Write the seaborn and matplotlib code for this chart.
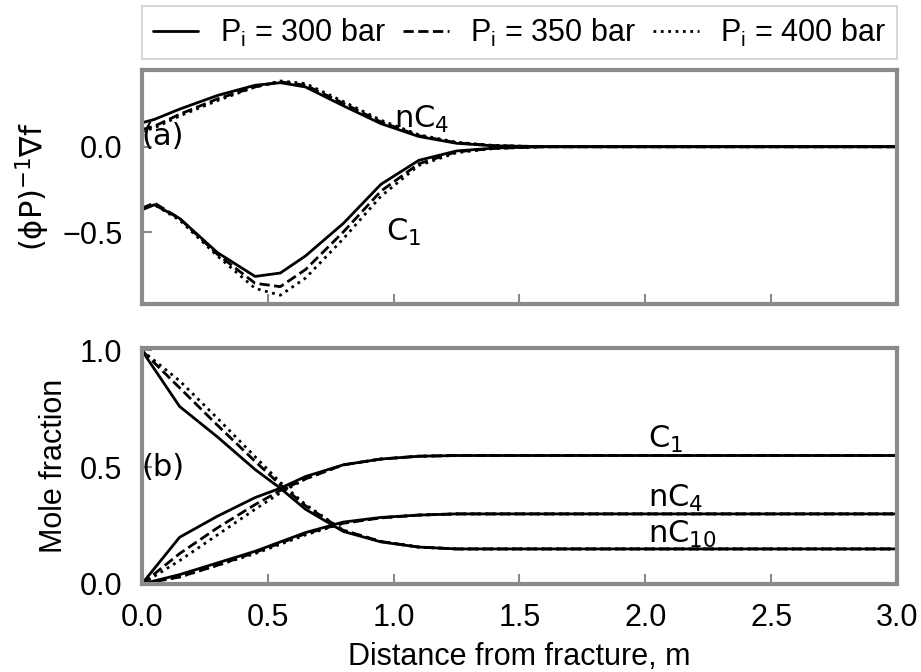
import numpy as np
import pandas as pd
import matplotlib
matplotlib.use("Agg")
import matplotlib.pyplot as plt
from matplotlib.lines import Line2D
import seaborn as sns

# pressures / line styles
pressures = ["300", "350", "400"]
styles = ["-", "--", ":"]

# (a) normalised gradient vs distance
x_a = [0, 0.05, 0.15, 0.3, 0.45, 0.55, 0.65, 0.8, 0.95, 1.1, 1.25, 1.4, 1.6, 2.0, 3.0]
nc4_a = {
    "300": [0.14, 0.16, 0.22, 0.30, 0.36, 0.375, 0.35, 0.24, 0.135, 0.06, 0.02, 0.005, 0.0, 0.0, 0.0],
    "350": [0.10, 0.12, 0.19, 0.28, 0.35, 0.38, 0.36, 0.255, 0.145, 0.065, 0.023, 0.006, 0.0, 0.0, 0.0],
    "400": [0.09, 0.11, 0.18, 0.27, 0.35, 0.385, 0.37, 0.265, 0.155, 0.07, 0.026, 0.007, 0.0, 0.0, 0.0],
}
c1_a = {
    "300": [-0.37, -0.34, -0.42, -0.62, -0.76, -0.74, -0.64, -0.45, -0.22, -0.08, -0.025, -0.008, 0.0, 0.0, 0.0],
    "350": [-0.36, -0.33, -0.42, -0.63, -0.80, -0.82, -0.72, -0.50, -0.26, -0.10, -0.03, -0.01, 0.0, 0.0, 0.0],
    "400": [-0.36, -0.34, -0.43, -0.64, -0.83, -0.87, -0.77, -0.54, -0.29, -0.11, -0.035, -0.01, 0.0, 0.0, 0.0],
}

# (b) mole fractions vs distance
x_b = [0, 0.15, 0.3, 0.45, 0.55, 0.65, 0.8, 0.95, 1.1, 1.25, 1.5, 2.0, 3.0]
c1_b = {
    "300": [0, 0.20, 0.29, 0.37, 0.41, 0.46, 0.51, 0.535, 0.547, 0.55, 0.55, 0.55, 0.55],
    "350": [0, 0.13, 0.24, 0.34, 0.40, 0.45, 0.51, 0.535, 0.547, 0.55, 0.55, 0.55, 0.55],
    "400": [0, 0.10, 0.21, 0.32, 0.39, 0.45, 0.51, 0.535, 0.547, 0.55, 0.55, 0.55, 0.55],
}
nc4_b = {
    "300": [0, 0.04, 0.09, 0.14, 0.18, 0.22, 0.265, 0.285, 0.295, 0.30, 0.30, 0.30, 0.30],
    "350": [0, 0.03, 0.08, 0.135, 0.175, 0.215, 0.26, 0.283, 0.295, 0.30, 0.30, 0.30, 0.30],
    "400": [0, 0.03, 0.08, 0.13, 0.17, 0.21, 0.26, 0.283, 0.295, 0.30, 0.30, 0.30, 0.30],
}
nc10_b = {
    "300": [1.0, 0.76, 0.63, 0.49, 0.41, 0.32, 0.225, 0.18, 0.158, 0.15, 0.15, 0.15, 0.15],
    "350": [1.0, 0.84, 0.68, 0.525, 0.425, 0.335, 0.23, 0.182, 0.158, 0.15, 0.15, 0.15, 0.15],
    "400": [1.0, 0.87, 0.71, 0.545, 0.435, 0.34, 0.23, 0.182, 0.158, 0.15, 0.15, 0.15, 0.15],
}

sns.set_style("ticks")
plt.rcParams["font.family"] = ["Liberation Sans", "DejaVu Sans"]
plt.rcParams["text.color"] = "black"
plt.rcParams["axes.labelcolor"] = "black"
plt.rcParams["xtick.labelcolor"] = "black"
plt.rcParams["ytick.labelcolor"] = "black"

fig = plt.figure(figsize=(9.21, 6.72), dpi=100)
ax1 = fig.add_axes([0.154, 0.548, 0.820, 0.348])
ax2 = fig.add_axes([0.154, 0.131, 0.820, 0.351])

lw = 2.0
for p, ls in zip(pressures, styles):
    sns.lineplot(x=x_a, y=nc4_a[p], ax=ax1, color="k", linestyle=ls, lw=lw)
    sns.lineplot(x=x_a, y=c1_a[p], ax=ax1, color="k", linestyle=ls, lw=lw)
    sns.lineplot(x=x_b, y=c1_b[p], ax=ax2, color="k", linestyle=ls, lw=lw)
    sns.lineplot(x=x_b, y=nc4_b[p], ax=ax2, color="k", linestyle=ls, lw=lw)
    sns.lineplot(x=x_b, y=nc10_b[p], ax=ax2, color="k", linestyle=ls, lw=lw)

fs = 22
afs = 22
dv = "DejaVu Sans"
for ax in (ax1, ax2):
    ax.set_xlim(0, 3.0)
    ax.set_xticks([0, 0.5, 1.0, 1.5, 2.0, 2.5, 3.0])
    for s in ax.spines.values():
        s.set_color("#8a8a8a")
        s.set_linewidth(3)
    ax.tick_params(direction="in", length=7, width=1.5, color="#8a8a8a",
                   labelsize=fs, bottom=True, left=True, top=False, right=False, pad=14)

ax1.set_ylim(-0.92, 0.45)
ax1.set_yticks([-0.5, 0.0])
ax1.set_yticklabels(["\u22120.5", "0.0"])
ax1.set_xticklabels([])
ax1.set_ylabel("(\u03d5P)$^{-1}$\u2207f", fontsize=fs, family=dv, labelpad=7)

ax2.set_ylim(0, 1.01)
ax2.set_yticks([0, 0.5, 1.0])
ax2.set_yticklabels(["0.0", "0.5", "1.0"])
ax2.set_xticklabels(["0.0", "0.5", "1.0", "1.5", "2.0", "2.5", "3.0"])
ax2.set_ylabel("Mole fraction", fontsize=fs, labelpad=8)
ax2.set_xlabel("Distance from fracture, m", fontsize=fs, labelpad=6)

ax1.text(0.0, 0.06, "(a)", fontsize=afs, family=dv, va="center", ha="left")
ax1.text(1.0, 0.16, "nC$_4$", fontsize=afs, family=dv, va="center")
ax1.text(0.97, -0.5, "C$_1$", fontsize=afs, family=dv, va="center")
ax2.text(0.0, 0.5, "(b)", fontsize=afs, family=dv, va="center", ha="left")
ax2.text(2.01, 0.62, "C$_1$", fontsize=afs, family=dv, va="center")
ax2.text(2.01, 0.365, "nC$_4$", fontsize=afs, family=dv, va="center")
ax2.text(2.01, 0.21, "nC$_{10}$", fontsize=afs, family=dv, va="center")

handles = [Line2D([], [], color="k", linestyle=ls, lw=lw) for ls in styles]
labels = ["P$_\\mathregular{i}$ = %s bar" % p for p in pressures]
leg = ax1.legend(handles, labels, ncol=3, loc="lower left",
                 bbox_to_anchor=(0, 1.045, 1, 0.2), mode="expand",
                 prop={"family": "Liberation Sans", "size": 22},
                 frameon=True, fancybox=False,
                 handlelength=1.5, handletextpad=0.7, columnspacing=0.5,
                 borderaxespad=0, borderpad=0.35)
leg.get_frame().set_edgecolor("#cfcfcf")
leg.get_frame().set_linewidth(1.5)

fig.savefig("out.png", dpi=100)
